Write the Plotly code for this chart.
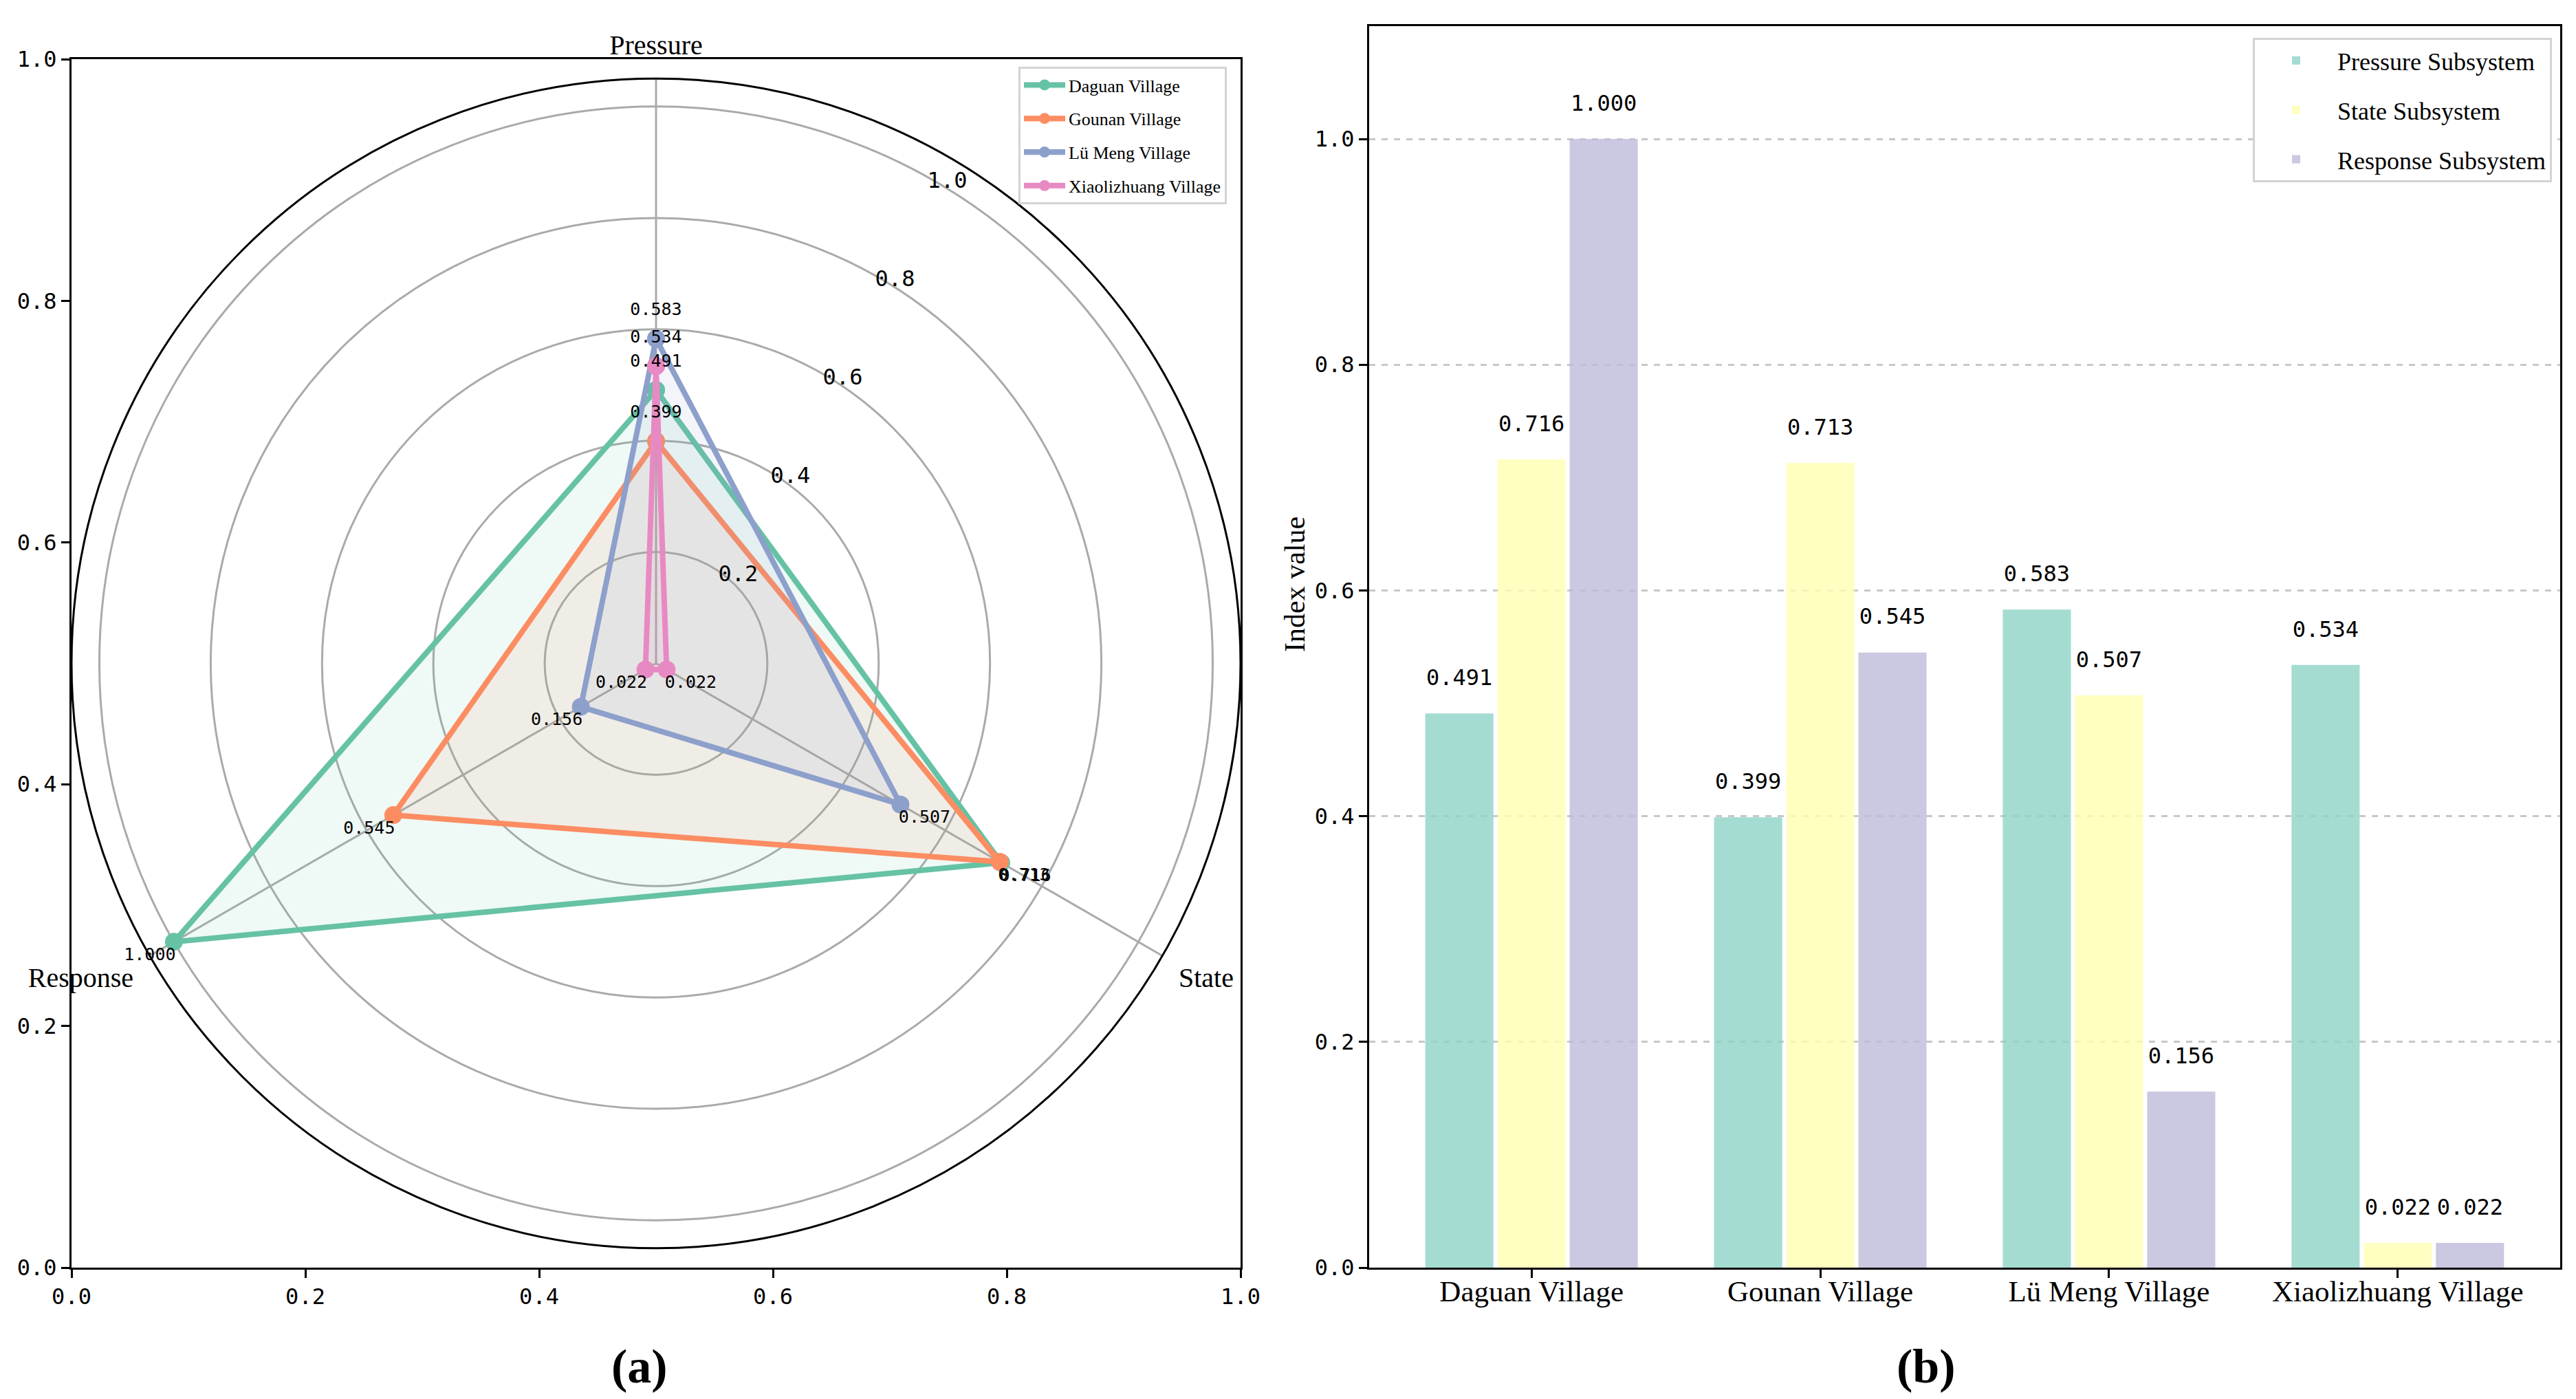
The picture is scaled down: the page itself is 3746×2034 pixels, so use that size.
import plotly.graph_objects as go

# data
villages = ['Daguan Village', 'Gounan Village', 'Lü Meng Village', 'Xiaolizhuang Village']
subsystems = ['Pressure', 'State', 'Response']
pressure_vals = [0.491, 0.399, 0.583, 0.534]
state_vals = [0.716, 0.713, 0.507, 0.022]
response_vals = [1.000, 0.545, 0.156, 0.022]
series_names = ['Pressure Subsystem', 'State Subsystem', 'Response Subsystem']
radar_ticks = [0.2, 0.4, 0.6, 0.8, 1.0]
axis_ticks = [0.0, 0.2, 0.4, 0.6, 0.8, 1.0]

# styles
line_colors = ['#66c2a5', '#fc8d62', '#8da0cb', '#e78ac3']
fill_colors = ['rgba(102,194,165,0.1)', 'rgba(252,141,98,0.1)',
               'rgba(141,160,203,0.1)', 'rgba(231,138,195,0.1)']
bar_colors = ['rgba(141,211,199,0.8)', 'rgba(255,255,179,0.8)', 'rgba(190,186,218,0.8)']
SERIF = 'Liberation Serif'
MONO = 'DejaVu Sans Mono'
W, H = 3746, 2034

fig = go.Figure()

# ---- (a) radar ----
# empty trace so the background cartesian frame gets drawn
fig.add_trace(go.Scatter(x=[], y=[], xaxis='x2', yaxis='y2', showlegend=False))

for i, name in enumerate(villages):
    vals = [pressure_vals[i], state_vals[i], response_vals[i]]
    fig.add_trace(go.Scatterpolar(
        r=vals + vals[:1], theta=subsystems + subsystems[:1],
        mode='lines+markers', name=name, legend='legend', legendgroup=name,
        line=dict(color=line_colors[i], width=8),
        marker=dict(size=26, color=line_colors[i]),
        fill='toself', fillcolor=fill_colors[i],
    ))
for i, name in enumerate(villages):
    vals = [pressure_vals[i], state_vals[i], response_vals[i]]
    fig.add_trace(go.Scatterpolar(
        r=[v + 0.05 for v in vals], theta=subsystems,
        mode='text', text=['%.3f' % v for v in vals],
        textfont=dict(family=MONO, size=25, color='black'),
        showlegend=False, hoverinfo='skip',
    ))

# ---- (b) grouped bars ----
bar_data = [pressure_vals, state_vals, response_vals]
for k, vals in enumerate(bar_data):
    off = (k - 1) * 0.25
    xs = [i + off for i in range(len(villages))]
    fig.add_trace(go.Bar(
        x=xs, y=vals, width=0.236, name=series_names[k],
        legend='legend2', legendgroup=series_names[k],
        marker=dict(color=bar_colors[k], line=dict(width=0)),
    ))
    fig.add_trace(go.Scatter(
        x=xs, y=[v + 0.03 for v in vals], mode='text',
        text=['%.3f' % v for v in vals],
        textfont=dict(family=MONO, size=32, color='black'),
        showlegend=False, hoverinfo='skip', cliponaxis=False,
    ))

radar_x = [96 / W, 1796 / W]
radar_y = [1 - 1835 / H, 1 - 78 / H]
bar_x = [1983 / W, 3715 / W]
bar_y = [1 - 1835 / H, 1 - 30 / H]

frame = dict(showline=True, linecolor='black', linewidth=3, mirror=True,
             ticks='outside', ticklen=12, tickwidth=3, tickcolor='black',
             zeroline=False, automargin=False)

fig.update_layout(
    width=W, height=H, autosize=False,
    margin=dict(l=0, r=0, t=0, b=0),
    template='none',
    paper_bgcolor='white', plot_bgcolor='white',
    font=dict(family=SERIF, color='black'),
    xaxis2=dict(domain=radar_x, range=[0, 1], anchor='y2', tickvals=axis_ticks,
                ticktext=['%.1f' % t for t in axis_ticks], showgrid=False,
                tickfont=dict(family=MONO, size=32), **frame),
    yaxis2=dict(domain=radar_y, range=[0, 1], anchor='x2', tickvals=axis_ticks,
                ticktext=['%.1f' % t for t in axis_ticks], showgrid=False,
                tickfont=dict(family=MONO, size=32), **frame),
    polar=dict(
        domain=dict(x=radar_x, y=radar_y),
        bgcolor='rgba(0,0,0,0)',
        radialaxis=dict(range=[0, 1.05], tickvals=radar_ticks,
                        ticktext=['%.1f' % t for t in radar_ticks],
                        showline=False, ticks='', angle=62, tickangle=62,
                        gridcolor='#aaaaaa', gridwidth=3,
                        tickfont=dict(family=MONO, size=32)),
        angularaxis=dict(rotation=90, direction='clockwise',
                         categoryarray=subsystems, categoryorder='array',
                         showline=True, linecolor='black', linewidth=3,
                         gridcolor='#aaaaaa', gridwidth=3,
                         ticks='outside', ticklen=18, tickcolor='rgba(0,0,0,0)',
                         tickfont=dict(family=SERIF, size=40)),
    ),
    xaxis=dict(domain=bar_x, range=[-0.5625, 3.5625], tickvals=list(range(len(villages))),
               ticktext=villages, showgrid=False, tickfont=dict(family=SERIF, size=43),
               ticklabelstandoff=-18, **frame),
    yaxis=dict(domain=bar_y, range=[0, 1.1], tickvals=axis_ticks,
               ticktext=['%.1f' % t for t in axis_ticks], showgrid=True,
               gridcolor='#c8c8c8', gridwidth=3, griddash='dash',
               tickfont=dict(family=MONO, size=32), **frame),
    legend=dict(x=1473 / W, y=1 - 89 / H, xanchor='left', yanchor='top',
                font=dict(family=SERIF, size=26), bgcolor='white',
                bordercolor='#d3d3d3', borderwidth=3, tracegroupgap=12,
                itemwidth=60),
    legend2=dict(x=3703 / W, y=1 - 47 / H, xanchor='right', yanchor='top',
                 font=dict(family=SERIF, size=36), bgcolor='white',
                 bordercolor='#d3d3d3', borderwidth=3, tracegroupgap=22,
                 itemwidth=110),
    annotations=[
        dict(text='Index value', x=1875 / W, y=1 - 842 / H, xref='paper', yref='paper',
             textangle=-90, showarrow=False, font=dict(family=SERIF, size=42)),
        dict(text='<b>(a)</b>', x=922 / W, y=1 - 1978 / H, xref='paper', yref='paper',
             xanchor='center', yanchor='middle',
             showarrow=False, font=dict(family=SERIF, size=70)),
        dict(text='<b>(b)</b>', x=2793 / W, y=1 - 1978 / H, xref='paper', yref='paper',
             xanchor='center', yanchor='middle',
             showarrow=False, font=dict(family=SERIF, size=70)),
    ],
)

fig.write_html('out.html')
